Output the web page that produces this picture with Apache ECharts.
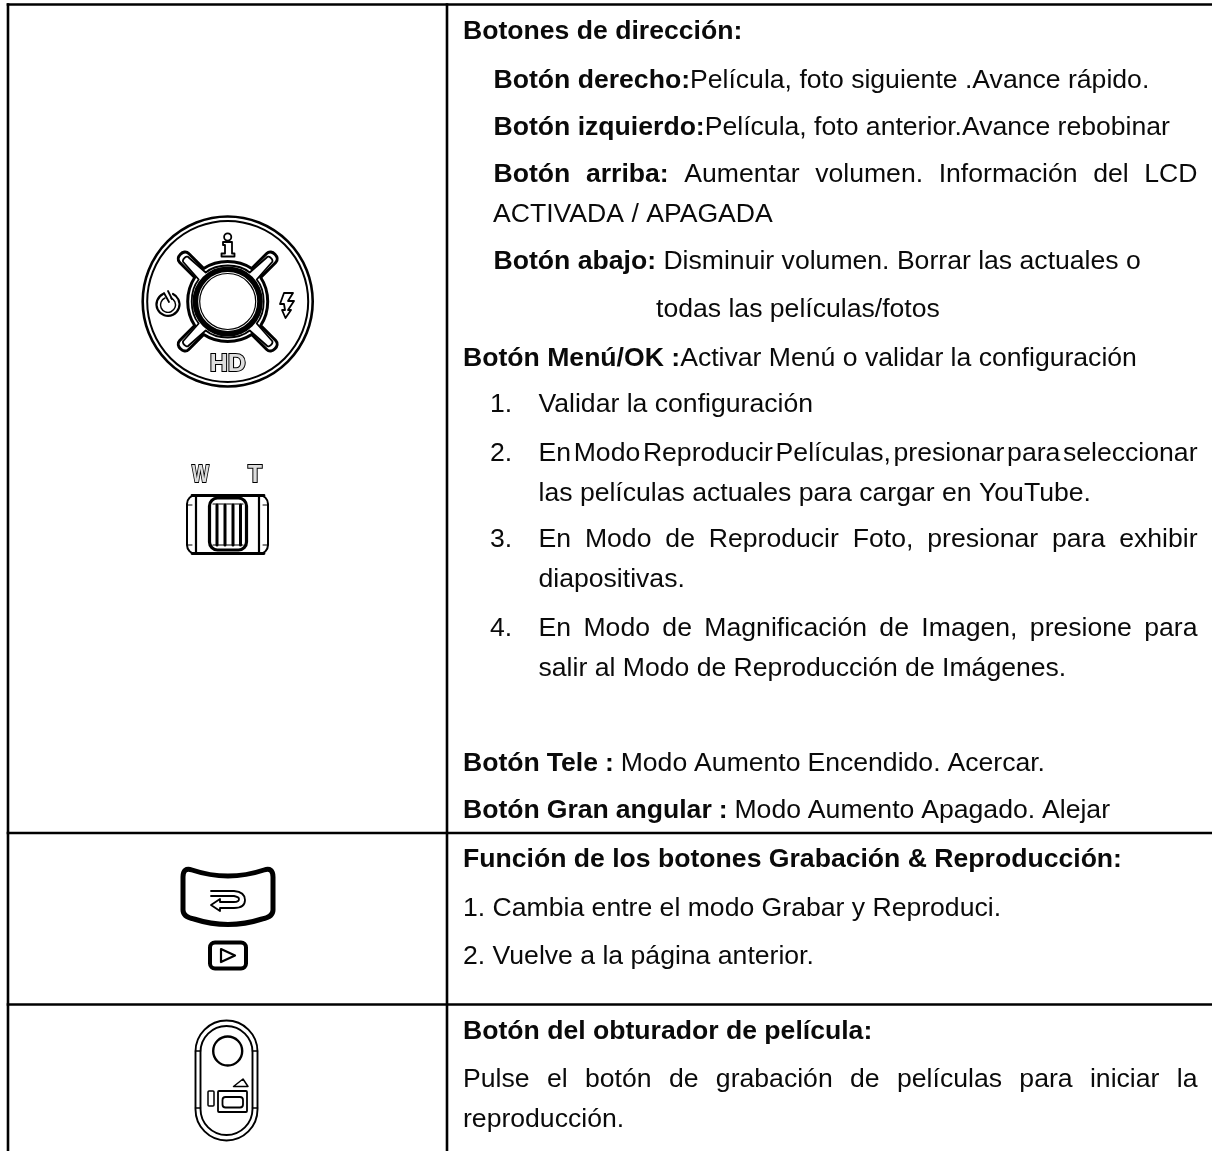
<!DOCTYPE html>
<html><head><meta charset="utf-8">
<style>html,body{margin:0;padding:0;background:#fff}#c{width:1212px;height:1151px}</style>
<script src="https://cdn.jsdelivr.net/npm/echarts@6/dist/echarts.min.js"></script></head>
<body><div id="c"></div>
<script>
const boldParts = ["Botones de dirección:","Botón derecho:","Botón izquierdo:","Botón arriba:","","Botón abajo:","","Botón Menú/OK :","","","","","","","","","","","","Botón Tele :","Botón Gran angular :","Función de los botones Grabación & Reproducción:","","","Botón del obturador de película:","",""];
const normalParts = ["","Película, foto siguiente .Avance rápido.","Película, foto anterior.Avance rebobinar"," Aumentar volumen. Información del LCD","ACTIVADA / APAGADA"," Disminuir volumen. Borrar las actuales o","todas las películas/fotos","Activar Menú o validar la configuración","1.","Validar la configuración","2.","En Modo Reproducir Películas, presionar para seleccionar","las películas actuales para cargar en YouTube.","3.","En Modo de Reproducir Foto, presionar para exhibir","diapositivas.","4.","En Modo de Magnificación de Imagen, presione para","salir al Modo de Reproducción de Imágenes."," Modo Aumento Encendido. Acercar."," Modo Aumento Apagado. Alejar","","1. Cambia entre el modo Grabar y Reproduci.","2. Vuelve a la página anterior.","","Pulse el botón de grabación de películas para iniciar la","reproducción."];
// layout: x, baseline y, right edge when justified (0 = natural width)
const layout = [[463,38,0],[493.5,87.3,0],[493.5,134.7,0],[493.5,181.7,1197.5],[493,221.7,0],[493.5,268.3,0],[656,316.7,0],[463,365,0],
 [490,411.7,0],[538.5,411.7,0],[490,460,0],[538.5,460,1197.5],[538.5,500,0],[490,546.7,0],[538.5,546.7,1197.5],[538.5,586.7,0],
 [490,635,0],[538.5,635,1197.5],[538.5,675,0],[463,770,1045],[463,817.7,1110],[463,866.7,0],[463,915,0],[463,963,0],[463,1038.3,0],[463,1086,1197.5],[463,1126.7,0]];
const FS = 26.6, FF = '"Liberation Sans", Arial, sans-serif', INK = '#0a0a0a';
const meas = document.createElement('canvas').getContext('2d');
function w(t,b){meas.font=(b?'bold ':'')+FS+'px '+FF;return meas.measureText(t).width;}
function lineEl(b,n,x,y,end){
  const all=[];
  b.split(' ').filter(Boolean).forEach(t=>all.push(['b',t,true]));
  const tight = b && n && !n.startsWith(' ');
  n.split(' ').filter(Boolean).forEach((t,i)=>all.push(['n',t,!(tight&&i===0)]));
  let natural=0,gaps=0;
  all.forEach((t,i)=>{natural+=w(t[1],t[0]==='b');if(i>0&&t[2])gaps++;});
  const gap = end ? Math.max(1,(end-x-natural)/Math.max(1,gaps)) : w(' ',false);
  let s='';
  all.forEach((t,i)=>{ if(i>0&&t[2]) s+='{s|\u00a0}'; s+='{'+t[0]+'|'+t[1]+'}'; });
  return {type:'text',x:x,y:y-6.8,silent:true,style:{text:s,verticalAlign:'middle',align:'left',
    rich:{b:{font:'bold '+FS+'px '+FF,fill:INK},n:{font:FS+'px '+FF,fill:INK},s:{font:FS+'px '+FF,width:gap,fill:INK}}}};
}
const g=[];
const L=(x1,y1,x2,y2,lw)=>g.push({type:'line',silent:true,shape:{x1,y1,x2,y2},style:{stroke:'#000',lineWidth:lw||2.6}});
L(6.7,4.5,1212,4.5);L(6.7,833,1212,833);L(6.7,1004.5,1212,1004.5);
L(8,3.2,8,1151);L(447,3.2,447,1151);
layout.forEach((r,i)=>g.push(lineEl(boldParts[i]||'',normalParts[i]||'',r[0],r[1],r[2])));
const ic=[];
const C=(cx,cy,r,lw,fill)=>ic.push({type:'circle',silent:true,shape:{cx,cy,r},style:{stroke:'#000',lineWidth:lw,fill:fill||'none'}});
const P=(d,lw,fill)=>ic.push({type:'path',silent:true,shape:{pathData:d},style:{stroke:'#000',lineWidth:lw,fill:fill||'none',lineJoin:'round',lineCap:'round'}});
const R=(x,y,width,height,r,lw,fill)=>ic.push({type:'rect',silent:true,shape:{x,y,width,height,r},style:{stroke:'#000',lineWidth:lw,fill:fill||'none'}});
const T=(t,x,y,size,sx)=>ic.push({type:'text',silent:true,x,y,scaleX:sx||1,style:{text:t,font:'bold '+size+'px '+FF,fill:'#ddd',stroke:'#000',lineWidth:2,align:'center',verticalAlign:'middle'}});
const cx=227.7,cy=301.5;
C(cx,cy,85,2.6);C(cx,cy,80.5,2);
function cross(q){
  let d='';
  for(let a=0;a<4;a++){
    const rot=p=>{let x=p[0],y=p[1];for(let i=0;i<a;i++){[x,y]=[-y,x];}return (cx+x).toFixed(1)+' '+(cy+y).toFixed(1);};
    if(a===0)d+='M'+rot(q[0]);
    d+=' C'+rot(q[1])+' '+rot(q[2])+' '+rot(q[3]);
    d+=' L'+rot(q[4]);
    d+=' C'+rot(q[5])+' '+rot(q[6])+' '+rot(q[7]);
    d+=' L'+rot(q[8]);
    d+=' C'+rot(q[9])+' '+rot(q[10])+' '+rot(q[11]);
  }
  return d+' Z';
}
P(cross([[0,-40],[10,-40],[18,-37],[24,-33],[39,-48],[44,-53],[53,-44],[48,-39],[33,-24],[37,-18],[40,-10],[40,0]]),3);
P(cross([[0,-36],[9,-36],[16,-34],[22,-29],[39,-44],[41,-47],[47,-41],[44,-39],[29,-22],[34,-16],[36,-9],[36,0]]),1.8);
C(cx,cy,32.3,5.6,'#fff');C(cx,cy,28,1.2);
C(cx,237,3.6,1.8);
P('M223 242 H232 V253.5 H234.5 V256.5 H221.5 V253.5 H225 V245 H223 Z',1.8,'#fff');
P('M163 294 A11.5 11.5 0 1 0 173 294',2.2);P('M165 298 A7.5 7.5 0 1 0 171 298',1.4);P('M164 293 L169 302 M168 291 L172 299',1.8);
P('M284 293 H293 L288 301 H294 L288 310 H291 L285.5 318 L282 310 H285 L284 304 H280 Z',1.8,'#fff');
T('HD',cx,364,24,1.04);
T('W',200.5,476,23,0.78);T('T',255,476,23,1);
R(187,495,81,59,9,2);P('M196 495 V554 M259 495 V554',2.2);P('M192 495.5 H264 M192 553.5 H264',2.8);
P('M187 505 H192 M187 545 H192 M268 505 H263 M268 545 H263',1);
R(209.5,498,37,52,8,3.2,'#fff');P('M213 504 H243 M213 545 H243',1.2);
P('M217 505 V545 M225 505 V545 M233 505 V545 M240.5 505 V545',3);
P('M192 870 Q228 882 264 870 Q273 867 273 877 V910 Q273 917 262 919 Q228 930 194 919 Q183 917 183 910 V877 Q183 867 192 870 Z',5);
P('M211 891 H234 Q245 892 245 900 Q245 908 234 908 H220 M220 902 H234 Q239 902 239 899 Q239 897 234 896 H211 M220 908 V911 L211 905 L220 899 V902',1.8);
R(210,942.5,36,26,5,4);P('M221 949 L235 955.5 L221 962 Z',2.2);
R(195.5,1020.5,62,120,31,1.9);R(200.5,1026,52,109,26,1.9);
P('M195.5 1051 H200.5 M252.5 1051 H257.5 M195.5 1108 H200.5 M252.5 1108 H257.5',1.5);
C(227.7,1051,14.5,2.4);
R(218,1091,29,21,1,1.8);R(222.5,1097,20.5,10.5,3,1.8);R(208,1091,6,15,1,1.5);P('M233.5 1086.5 L243 1079 L248 1086.5 Z',1.5);
const chart=echarts.init(document.getElementById('c'),null,{renderer:'canvas',width:1212,height:1151});
chart.setOption({animation:false,backgroundColor:'#fff',graphic:{elements:g},
 series:[{type:'custom',coordinateSystem:'none',silent:true,data:[0],renderItem:()=>({type:'group',children:ic})}]});
</script></body></html>
